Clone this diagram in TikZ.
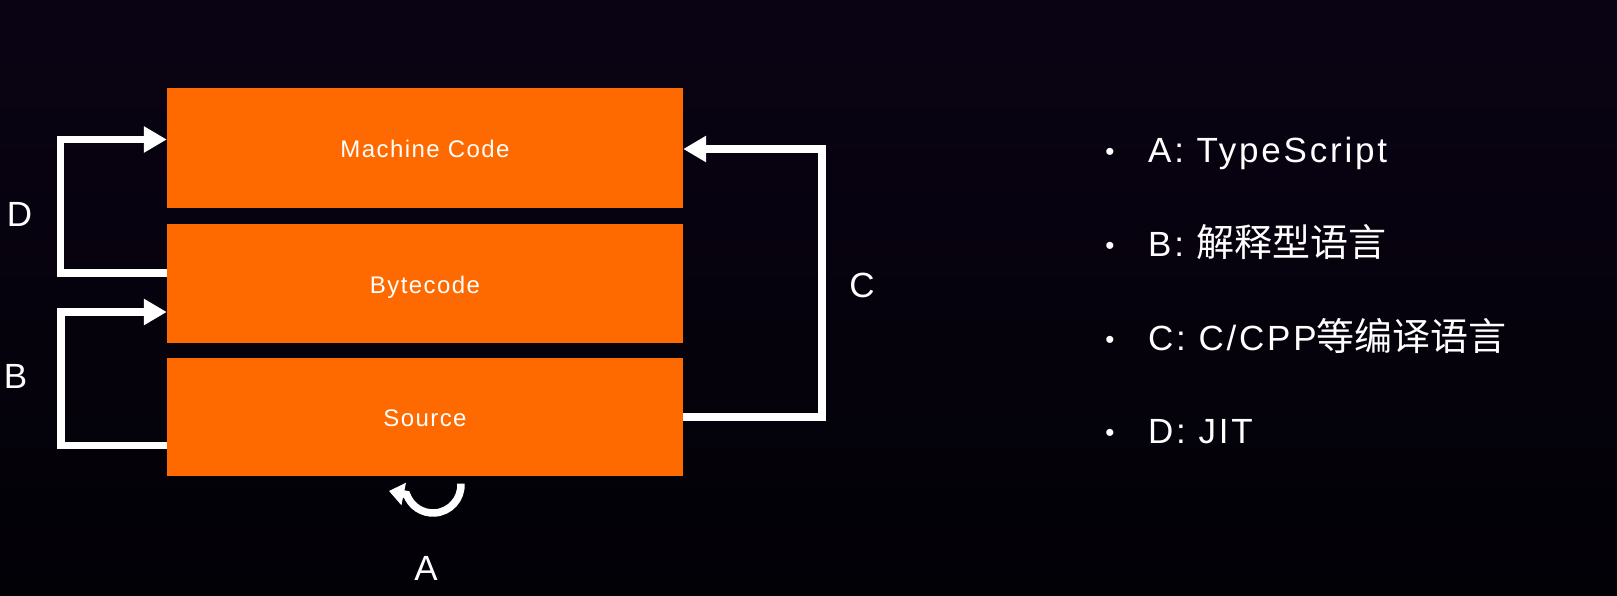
\documentclass[tikz,border=0pt]{standalone}
\usepackage{fontspec}
\setmainfont{Liberation Sans}
\newfontfamily\cjk{Noto Sans CJK SC}
\newfontfamily\wide[LetterSpace=6]{Liberation Sans}
\newfontfamily\wider[LetterSpace=8]{Liberation Sans}
\usetikzlibrary{arrows.meta}
\definecolor{bgtop}{RGB}{10,3,20}
\definecolor{bgbot}{RGB}{2,1,6}
\definecolor{boxorange}{RGB}{255,106,0}
\tikzset{
  box/.style={fill=boxorange, draw=none, minimum width=516pt, inner sep=0pt,
    text=white, font=\wide\fontsize{24}{26}\selectfont, text height=19pt, text depth=0pt},
  flow/.style={draw=white, line width=7.5pt, line join=miter,
    -{Triangle[length=23pt,width=25pt]}},
  loop/.style={draw=white, line width=7.5pt,
    -{Triangle[length=15pt,width=22pt]}},
  letter/.style={text=white, font=\fontsize{35}{40}\selectfont, inner sep=0pt},
  item/.style={text=white, font=\wider\fontsize{35}{38}\selectfont, inner sep=0pt, anchor=base west},
  dot/.style={text=white, font=\fontsize{26}{28}\selectfont, inner sep=0pt, anchor=base}
}
\begin{document}
\begin{tikzpicture}[x=1pt,y=-1pt]
  \shade[top color=bgtop, bottom color=bgbot] (0,0) rectangle (1617,595);
  \useasboundingbox (0,0) rectangle (1617,595);

  \node[box, minimum height=120pt] (mc) at (425,148) {Machine Code};
  \node[box, minimum height=119pt] (bc) at (425,283.5) {Bytecode};
  \node[box, minimum height=118pt] (src) at (425,417) {Source};

  % D: Bytecode -> Machine Code
  \draw[flow] (bc.west |- 0,273) -| (60.5,139.5) -- (mc.west |- 0,139.5);
  % B: Source -> Bytecode
  \draw[flow] (src.west |- 0,445.5) -| (61,312) -- (bc.west |- 0,312);
  % C: Source -> Machine Code
  \draw[flow] (src.east |- 0,417) -| (822,149) -- (mc.east |- 0,149);
  % A: Source -> Source
  \coordinate (acenter) at (433,485);
  \coordinate (atip) at (389,491);
  \draw[loop] ([shift={(-3:28)}]acenter) arc[start angle=-3, end angle=160, radius=28] -- (atip);

  \node[letter] (ld) at (19.5,214) {D};
  \node[letter] (lb) at (15.5,376.5) {B};
  \node[letter] (lc) at (862,285) {C};
  \node[letter] (la) at (426,568) {A};

  \node[dot] (d1) at (1110,160) {•};
  \node[dot] (d2) at (1110,254) {•};
  \node[dot] (d3) at (1110,348) {•};
  \node[dot] (d4) at (1110,441) {•};
  \node[item] (t1) at (1148,162) {A: TypeScript};
  \node[item] (t2) at (1148,256) {B: {\cjk\fontsize{38}{40}\selectfont 解释型语言}};
  \node[item] (t3) at (1148,350) {C: C/CPP{\cjk\fontsize{38}{40}\selectfont 等编译语言}};
  \node[item] (t4) at (1148,443) {D: JIT};
\end{tikzpicture}
\end{document}
